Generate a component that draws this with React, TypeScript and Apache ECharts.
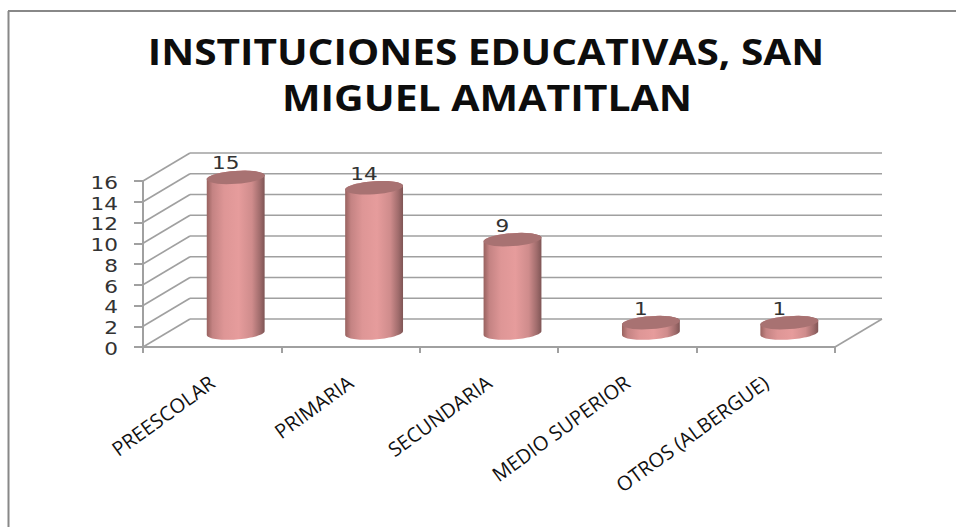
import React, { useEffect, useRef } from "react";
import * as echarts from "echarts";

const titleLines = ["INSTITUCIONES EDUCATIVAS, SAN", "MIGUEL AMATITLAN"];
const categories = ["PREESCOLAR", "PRIMARIA", "SECUNDARIA", "MEDIO SUPERIOR", "OTROS (ALBERGUE)"];
const values = [15, 14, 9, 1, 1];
const yTicks = [0, 2, 4, 6, 8, 10, 12, 14, 16];

const DEPTH_X = 47;
const DEPTH_Y = 28;
const GRID = "#a0a0a0";
const RX = 29;
const RY = 6.5;
const TILT = (4 * Math.PI) / 180;
const NUM_FONT = '18px "DejaVu Sans"';
const NUM_STRETCH = 1.2;

function ellipsePoint(cx: number, cy: number, t: number) {
  const x = RX * Math.cos(t);
  const y = RY * Math.sin(t);
  return [cx + x * Math.cos(TILT) + y * Math.sin(TILT), cy - x * Math.sin(TILT) + y * Math.cos(TILT)];
}

function arcPoints(cx: number, cy: number, from: number, to: number) {
  const out: number[][] = [];
  const n = 36;
  for (let i = 0; i <= n; i++) out.push(ellipsePoint(cx, cy, from + ((to - from) * i) / n));
  return out;
}

function renderWall(params: any, api: any) {
  const tick = api.value(1);
  const p = api.coord([0, tick]);
  const cs = params.coordSys;
  const x0 = cs.x;
  const x1 = cs.x + cs.width;
  const y = p[1];
  const style = { stroke: GRID, lineWidth: 1.6, fill: "none" };
  const children: any[] = [
    { type: "line", shape: { x1: x0, y1: y, x2: x0 + DEPTH_X, y2: y - DEPTH_Y }, style },
    { type: "line", shape: { x1: x0 + DEPTH_X, y1: y - DEPTH_Y, x2: x1 + DEPTH_X, y2: y - DEPTH_Y }, style },
    {
      type: "text",
      x: x0 - 25,
      y: y + 2,
      scaleX: NUM_STRETCH,
      style: { text: String(tick), align: "right", verticalAlign: "middle", font: NUM_FONT, fill: "#333333" },
    },
  ];
  if (tick === 0) {
    children.push({ type: "line", shape: { x1, y1: y, x2: x1 + DEPTH_X, y2: y - DEPTH_Y }, style });
  }
  return { type: "group", children };
}

function renderCylinder(_params: any, api: any) {
  const idx = api.value(0);
  const val = api.value(1);
  const top = api.coord([idx, val]);
  const base = api.coord([idx, 0]);
  const cx = top[0] + DEPTH_X / 2;
  const topY = top[1] - DEPTH_Y / 2;
  const baseY = base[1] - DEPTH_Y / 2;
  const body = [
    ...arcPoints(cx, topY, 0, -Math.PI),
    ...arcPoints(cx, baseY, Math.PI, 0),
  ];
  const fill = new echarts.graphic.LinearGradient(0, 0, 1, 0, [
    { offset: 0, color: "#98625f" },
    { offset: 0.1, color: "#c48383" },
    { offset: 0.3, color: "#de9696" },
    { offset: 0.55, color: "#e69c9c" },
    { offset: 0.78, color: "#cf8c8c" },
    { offset: 0.92, color: "#a06c6c" },
    { offset: 1, color: "#7f5555" },
  ]);
  return {
    type: "group",
    children: [
      { type: "polygon", shape: { points: body }, style: { fill } },
      { type: "polygon", shape: { points: arcPoints(cx, topY, 0, Math.PI * 2) }, style: { fill: "#a87272" } },
      {
        type: "text",
        x: cx - 10,
        y: topY - 14,
        scaleX: NUM_STRETCH,
        style: {
          text: String(val),
          align: "center",
          verticalAlign: "middle",
          font: NUM_FONT,
          fill: "#333333",
        },
      },
    ],
  };
}

export default function App() {
  const ref = useRef<HTMLDivElement>(null);
  useEffect(() => {
    const chart = echarts.init(ref.current!, undefined, { renderer: "svg" });
    const titleStyle = {
      align: "center",
      verticalAlign: "middle",
      font: 'bold 35px "Open Sans"',
      fill: "#0d0d0d",
    };
    chart.setOption({
      animation: false,
      backgroundColor: "#ffffff",
      grid: { left: 143, right: 121, top: 181, bottom: 180, containLabel: false },
      xAxis: {
        type: "category",
        data: categories,
        axisLine: { show: true, lineStyle: { color: GRID, width: 2 } },
        axisTick: { show: true, length: 6, alignWithLabel: false, lineStyle: { color: GRID, width: 2 } },
        axisLabel: {
          interval: 0,
          rotate: 36,
          margin: 33,
          fontFamily: "Open Sans",
          fontSize: 20,
          color: "#111111",
        },
        splitLine: { show: false },
      },
      yAxis: {
        type: "value",
        min: 0,
        max: 16,
        interval: 2,
        axisLine: { show: true, lineStyle: { color: GRID, width: 2 } },
        axisTick: { show: true, length: 9, lineStyle: { color: GRID, width: 2 } },
        axisLabel: { show: false },
        splitLine: { show: false },
      },
      graphic: [
        { type: "line", z: 10, shape: { x1: 8.5, y1: 11, x2: 8.5, y2: 527 }, style: { stroke: "#888888", lineWidth: 2 } },
        { type: "line", z: 10, shape: { x1: 8, y1: 11, x2: 956, y2: 11 }, style: { stroke: "#888888", lineWidth: 2 } },
        { type: "text", z: 10, x: 486, y: 51, scaleX: 1.16, style: { ...titleStyle, text: titleLines[0] } },
        { type: "text", z: 10, x: 487, y: 97, scaleX: 1.17, style: { ...titleStyle, text: titleLines[1] } },
      ],
      series: [
        {
          type: "custom",
          name: "walls",
          coordinateSystem: "cartesian2d",
          renderItem: renderWall,
          data: yTicks.map((t) => [0, t]),
          z: 1,
          silent: true,
        },
        {
          type: "custom",
          name: "Instituciones",
          coordinateSystem: "cartesian2d",
          renderItem: renderCylinder,
          data: values.map((v, i) => [i, v]),
          z: 3,
          silent: true,
        },
      ],
    });
    return () => chart.dispose();
  }, []);
  return <div ref={ref} style={{ position: "absolute", left: 0, top: 0, width: 956, height: 527 }} />;
}
